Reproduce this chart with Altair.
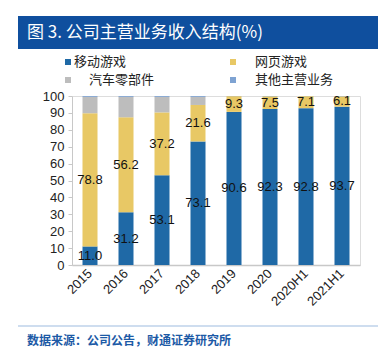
import altair as alt
import pandas as pd

years = ["2015", "2016", "2017", "2018", "2019", "2020", "2020H1", "2021H1"]
series = ["移动游戏", "网页游戏", "汽车零部件", "其他主营业务"]
mobile = [11.0, 31.2, 53.1, 73.1, 90.6, 92.3, 92.8, 93.7]
web = [78.8, 56.2, 37.2, 21.6, 9.3, 7.5, 7.1, 6.1]
auto = [9.7, 12.1, 9.2, 4.8, 0.0, 0.0, 0.0, 0.0]
other = [0.5, 0.5, 0.5, 0.5, 0.1, 0.2, 0.1, 0.2]
colors = ["#1f69a6", "#e8c865", "#bdbdbd", "#7ea3d2"]

title_text = "图 3. 公司主营业务收入结构(%)"
source_text = "数据来源：公司公告，财通证券研究所"

rows = []
for si, (name, vals) in enumerate(zip(series, [mobile, web, auto, other])):
    for yi, y in enumerate(years):
        rows.append({"year": y, "series": name, "value": vals[yi], "ord": si,
                     "show": si < 2 and vals[yi] > 0})
df = pd.DataFrame(rows)

W, H = 288, 169
CJK = "Noto Sans CJK SC"
NUM = "Liberation Sans"

color_scale = alt.Scale(domain=series, range=colors)
x_scale = alt.Scale(paddingInner=0.58, paddingOuter=0.29)
y_scale = alt.Scale(domain=[0, 100], nice=False)
x_axis = alt.Axis(labelAngle=-45, labelAlign="right", labelBaseline="middle",
                  labelFontSize=13, labelFont=NUM, labelColor="#222",
                  labelPadding=6, ticks=False, domainColor="#c8c8c8",
                  domainWidth=1.5)
y_axis = alt.Axis(values=list(range(0, 101, 10)), grid=False,
                  labelFontSize=13, labelFont=NUM, labelColor="#222",
                  tickColor="#c8c8c8", tickSize=4, domainColor="#c8c8c8",
                  labelPadding=4)

base = alt.Chart(df)

bars = base.mark_bar(size=15).encode(
    x=alt.X("year:N", sort=years, title=None, scale=x_scale, axis=x_axis),
    y=alt.Y("value:Q", stack="zero", title=None, scale=y_scale, axis=y_axis),
    color=alt.Color("series:N", scale=color_scale, legend=None),
    order=alt.Order("ord:Q"),
)

labels = base.transform_stack(
    stack="value", groupby=["year"], sort=[alt.SortField("ord")], as_=["v0", "v1"]
).transform_filter("datum.show").transform_calculate(
    mid="(datum.v0 + datum.v1) / 2", lab="format(datum.value, '.1f')"
).mark_text(fontSize=13, font=NUM, color="#111").encode(
    x=alt.X("year:N", sort=years, title=None, scale=x_scale, axis=x_axis),
    y=alt.Y("mid:Q", title=None, scale=y_scale, axis=y_axis),
    text="lab:N",
)

one = pd.DataFrame({"a": [0]})

title_bar = alt.Chart(one).mark_rect(color="#0f4f9e").encode(
    x=alt.value(-54), x2=alt.value(306), y=alt.value(-80), y2=alt.value(-47))
title = alt.Chart(one).mark_text(
    text=title_text, color="white", fontSize=17, font=CJK, align="left",
    baseline="middle").encode(x=alt.value(-45), y=alt.value(-63))

leg_df = pd.DataFrame({
    "series": series,
    "mx": [-4, 161, -4, 161],
    "my": [-34, -34, -16, -16],
    "tx": [2, 183, 17, 183],
})
leg_marks = alt.Chart(leg_df).mark_square(size=36, opacity=1).encode(
    x=alt.X("mx:Q", scale=None), y=alt.Y("my:Q", scale=None),
    color=alt.Color("series:N", scale=color_scale, legend=None))
leg_text = alt.Chart(leg_df).mark_text(
    fontSize=13, font=CJK, align="left", baseline="middle", color="#222").encode(
    x=alt.X("tx:Q", scale=None), y=alt.Y("my:Q", scale=None), text="series:N")

foot_line = alt.Chart(one).mark_rule(color="#9dbbe0", strokeWidth=1.2).encode(
    x=alt.value(-54), x2=alt.value(306), y=alt.value(230))
foot = alt.Chart(one).mark_text(
    text=source_text, color="#1c5aa6", fontSize=12, font=CJK, fontWeight="bold",
    align="left", baseline="middle").encode(x=alt.value(-45), y=alt.value(245))

chart = alt.layer(
    bars, labels, title_bar, title, leg_marks, leg_text, foot_line, foot
).properties(
    width=W, height=H,
    autosize=alt.AutoSizeParams(type="none"),
    padding={"left": 72, "top": 96, "right": 30, "bottom": 91},
).configure_view(stroke=None).configure(background="white")

chart.save("out.html", embed_options={"renderer": "svg", "actions": False})
